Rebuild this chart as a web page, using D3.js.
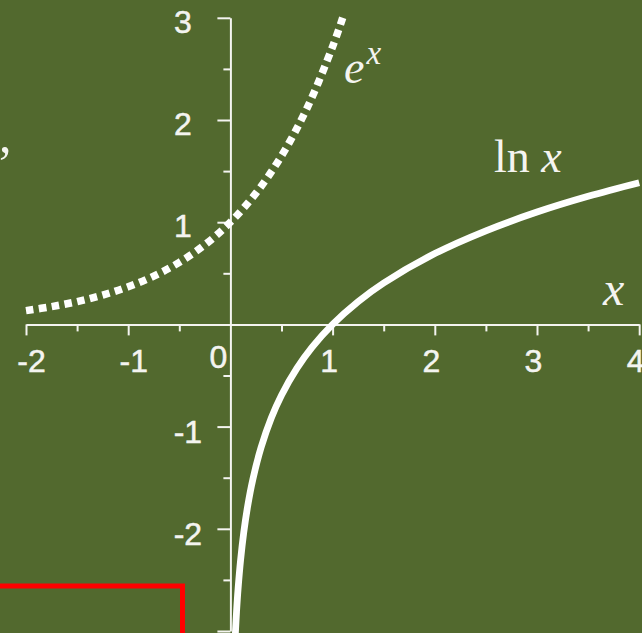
<!DOCTYPE html>
<html>
<head>
<meta charset="utf-8">
<script src="https://cdn.jsdelivr.net/npm/d3@7"></script>
<style>
  html, body { margin: 0; padding: 0; background: #52692e; }
  svg { display: block; }
</style>
</head>
<body>
<svg id="chart" width="642" height="633"></svg>
<script>
// y = e^x, sampled up to where it leaves the top of the frame (y = 3)
const expX = [-2, -1.75, -1.5, -1.25, -1, -0.75, -0.5, -0.25, 0, 0.25, 0.5, 0.75, 1, 1.099];
const expY = [0.135, 0.174, 0.223, 0.287, 0.368, 0.472, 0.607, 0.779, 1, 1.284, 1.649, 2.117, 2.718, 3.0];

// y = ln x, sampled from the bottom of the frame out to x = 4
const lnX = [0.048, 0.06, 0.075, 0.1, 0.13, 0.17, 0.22, 0.3, 0.4, 0.5, 0.65, 0.8, 1, 1.25, 1.5, 2, 2.5, 3, 3.5, 4];
const lnY = [-3.036, -2.813, -2.590, -2.303, -2.040, -1.772, -1.514, -1.204, -0.916, -0.693, -0.431, -0.223, 0, 0.223, 0.405, 0.693, 0.916, 1.099, 1.253, 1.386];

// Axis ticks and their labels
const xMajorTicks = [-2, -1, 1, 2, 3, 4];
const xMinorTicks = [-1.5, -0.5, 0.5, 1.5, 2.5, 3.5];
const xTickLabels = ["-2", "-1", "1", "2", "3", "4"];
const yMajorTicks = [-3, -2, -1, 1, 2, 3];
const yMinorTicks = [-2.5, -1.5, -0.5, 0.5, 1.5, 2.5];
const yLabelTicks = [-2, -1, 1, 2, 3];
const yTickLabels = ["-2", "-1", "1", "2", "3"];
const originLabel = "0";

const W = 642, H = 633;
const bg = "#52692e";
const ink = "#f4f4f0";
const sans = "'Liberation Sans', Arial, Helvetica, sans-serif";
const serif = "'Liberation Serif', 'Times New Roman', serif";

const svg = d3.select("#chart");
svg.append("rect").attr("width", W).attr("height", H).attr("fill", bg);

const x = d3.scaleLinear().domain([-2, 4]).range([26, 639.2]);
const y = d3.scaleLinear().domain([-3, 3]).range([631, 17.8]);

function styleAxis(g, keepDomain) {
  g.selectAll("line").attr("stroke", ink).attr("stroke-width", 2);
  if (keepDomain) g.select(".domain").attr("stroke", ink).attr("stroke-width", 2);
  else g.select(".domain").remove();
  g.selectAll("text").remove();
}

// Horizontal axis
svg.append("g").attr("transform", `translate(0,${y(0)})`)
  .call(d3.axisBottom(x).tickValues(xMajorTicks).tickSize(11).tickSizeOuter(0))
  .call(g => styleAxis(g, true));
svg.append("g").attr("transform", `translate(0,${y(0)})`)
  .call(d3.axisBottom(x).tickValues(xMinorTicks).tickSize(7).tickSizeOuter(0))
  .call(g => styleAxis(g, false));

// Vertical axis
svg.append("g").attr("transform", `translate(${x(0)},0)`)
  .call(d3.axisLeft(y).tickValues(yMajorTicks).tickSize(13).tickSizeOuter(0))
  .call(g => styleAxis(g, true));
svg.append("g").attr("transform", `translate(${x(0)},0)`)
  .call(d3.axisLeft(y).tickValues(yMinorTicks).tickSize(7).tickSizeOuter(0))
  .call(g => styleAxis(g, false));

// Tick labels
const tickFont = {
  "font-family": sans, "font-size": "32px", "fill": ink,
  "stroke": ink, "stroke-width": 0.5
};
function applyFont(sel, f) { Object.entries(f).forEach(([k, v]) => sel.attr(k, v)); return sel; }

applyFont(svg.append("g").selectAll("text").data(xMajorTicks).join("text")
  .attr("x", (d) => x(d) + (d < 0 ? 5.5 : -3.5))
  .attr("y", y(0) + 47.5)
  .attr("text-anchor", "middle")
  .text((d, i) => xTickLabels[i]), tickFont);

applyFont(svg.append("text")
  .attr("x", x(0) - 12)
  .attr("y", y(0) + 43.5)
  .attr("text-anchor", "middle")
  .text(originLabel), tickFont);

applyFont(svg.append("g").selectAll("text").data(yLabelTicks).join("text")
  .attr("x", (d) => x(0) - 47.5 + (d < 0 ? 5 : 0))
  .attr("y", (d) => y(d) + (d < 0 ? 5 : 3.5))
  .attr("dy", "0.36em")
  .attr("text-anchor", "middle")
  .text((d, i) => yTickLabels[i]), tickFont);

// Curves
const line = d3.line()
  .x(d => x(d[0]))
  .y(d => y(d[1]))
  .curve(d3.curveCatmullRom.alpha(0.5));

svg.append("path")
  .datum(lnX.map((v, i) => [v, lnY[i]]))
  .attr("d", line)
  .attr("fill", "none")
  .attr("stroke", "#ffffff")
  .attr("stroke-width", 6.8);

svg.append("path")
  .datum(expX.map((v, i) => [v, expY[i]]))
  .attr("d", line)
  .attr("fill", "none")
  .attr("stroke", "#ffffff")
  .attr("stroke-width", 7.5)
  .attr("stroke-dasharray", "7.5 5.5");

// Curve and axis names
const ex = svg.append("text")
  .attr("x", 344).attr("y", 82.7)
  .attr("font-family", serif).attr("font-size", "46px").attr("fill", ink);
ex.append("tspan").attr("font-style", "italic").text("e");
ex.append("tspan").attr("font-style", "italic").attr("font-size", "33px")
  .attr("dx", 2).attr("dy", -18.4).text("x");

const ln = svg.append("text")
  .attr("x", 494).attr("y", 171.7)
  .attr("font-family", serif).attr("font-size", "46px").attr("fill", ink);
ln.append("tspan").text("ln ");
ln.append("tspan").attr("font-style", "italic").text("x");

svg.append("text")
  .attr("x", 603).attr("y", 305)
  .attr("font-family", serif).attr("font-size", "48px")
  .attr("font-style", "italic").attr("fill", ink)
  .text("x");

// Punctuation at the left edge
svg.append("text")
  .attr("x", -1).attr("y", 152)
  .attr("font-family", serif).attr("font-size", "50px").attr("fill", ink)
  .text(",");

// Red frame at the lower left
svg.append("rect")
  .attr("x", -10).attr("y", 586)
  .attr("width", 192.5).attr("height", 100)
  .attr("fill", "none")
  .attr("stroke", "#ff0000")
  .attr("stroke-width", 5);
</script>
</body>
</html>
